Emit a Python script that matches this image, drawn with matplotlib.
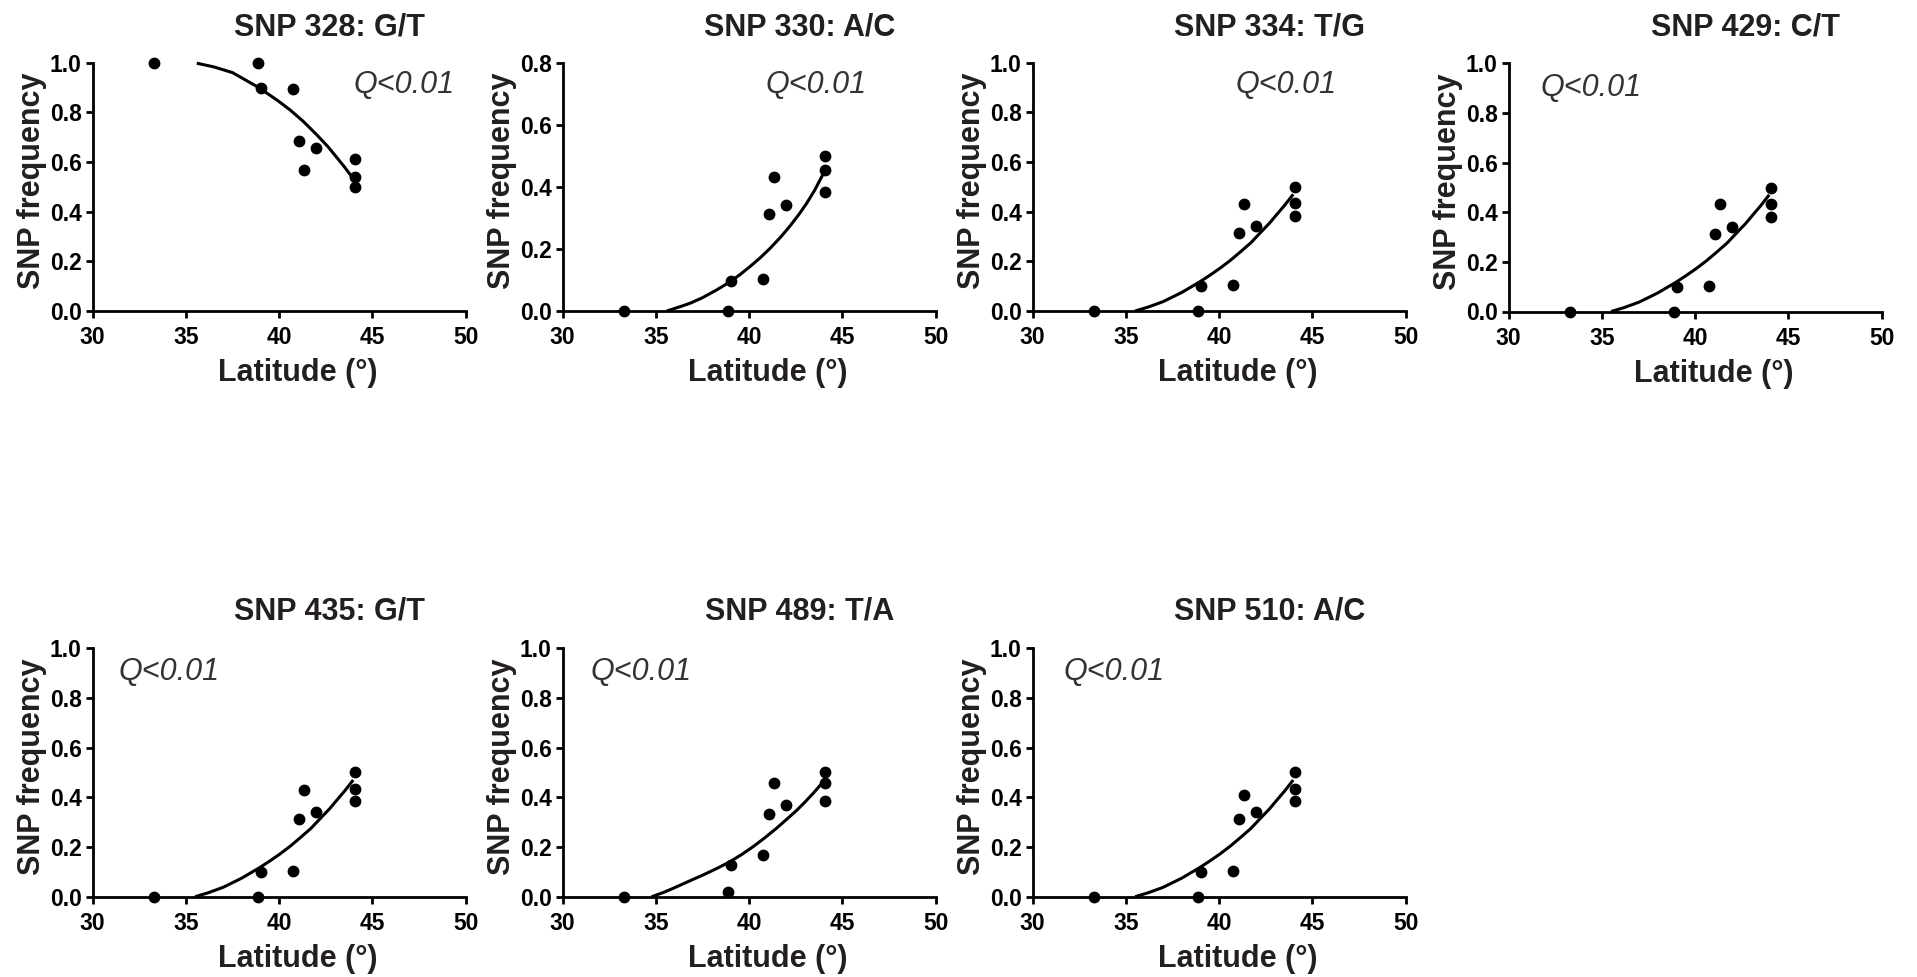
import matplotlib
matplotlib.use('Agg')
import matplotlib.pyplot as plt
from matplotlib.ticker import FormatStrFormatter

plt.rcParams['font.family'] = ['Liberation Sans', 'DejaVu Sans']
plt.rcParams['font.weight'] = 'bold'

# latitude of each sampled population (same for every SNP)
lat = [33.29, 38.87, 39.03, 40.76, 41.08, 41.35, 41.99, 44.05, 44.08, 44.05]

freq_328 = [1.0, 1.0, 0.899, 0.894, 0.686, 0.566, 0.656, 0.613, 0.541, 0.499]
freq_330 = [0.0, 0.0, 0.098, 0.104, 0.311, 0.431, 0.341, 0.498, 0.454, 0.382]
freq_334 = [0.0, 0.0, 0.101, 0.103, 0.313, 0.432, 0.341, 0.499, 0.434, 0.383]
freq_429 = [0.0, 0.0, 0.100, 0.103, 0.311, 0.431, 0.340, 0.498, 0.431, 0.382]
freq_435 = [0.0, 0.0, 0.099, 0.103, 0.312, 0.431, 0.341, 0.501, 0.434, 0.384]
freq_489 = [0.0, 0.019, 0.126, 0.167, 0.333, 0.456, 0.368, 0.501, 0.456, 0.384]
freq_510 = [0.0, 0.0, 0.099, 0.103, 0.312, 0.409, 0.341, 0.501, 0.434, 0.384]

# fitted curves
fit_328_x = [35.58, 36.5, 37.5, 38.97, 40.0, 40.58, 41.3, 42.01, 42.6, 43.08, 43.5, 43.95]
fit_328_y = [0.998, 0.983, 0.960, 0.897, 0.843, 0.810, 0.763, 0.710, 0.663, 0.619, 0.580, 0.535]
fit_330_x = [35.58, 36.3, 36.83, 37.5, 38.26, 38.97, 39.5, 40.04, 40.6, 41.12, 41.7, 42.19, 42.7, 43.08, 43.5, 43.97]
fit_330_y = [0.0, 0.014, 0.025, 0.043, 0.068, 0.094, 0.117, 0.143, 0.172, 0.202, 0.239, 0.274, 0.314, 0.347, 0.388, 0.442]
fit_std_x = [35.49, 36.2, 37.0, 38.0, 38.97, 39.5, 40.04, 40.6, 41.12, 41.7, 42.19, 42.7, 43.08, 43.5, 43.97]
fit_std_y = [0.0, 0.016, 0.038, 0.075, 0.118, 0.144, 0.172, 0.204, 0.237, 0.275, 0.314, 0.354, 0.388, 0.425, 0.470]
fit_489_x = [34.77, 35.4, 35.93, 36.7, 37.54, 38.3, 38.97, 39.6, 40.22, 40.85, 41.47, 42.0, 42.55, 43.0, 43.44, 43.97]
fit_489_y = [0.0, 0.017, 0.034, 0.060, 0.088, 0.115, 0.141, 0.170, 0.202, 0.238, 0.276, 0.311, 0.348, 0.382, 0.417, 0.463]

titles = ['SNP 328: G/T', 'SNP 330: A/C', 'SNP 334: T/G', 'SNP 429: C/T',
          'SNP 435: G/T', 'SNP 489: T/A', 'SNP 510: A/C']
freqs = [freq_328, freq_330, freq_334, freq_429, freq_435, freq_489, freq_510]
fits = [(fit_328_x, fit_328_y), (fit_330_x, fit_330_y), (fit_std_x, fit_std_y),
        (fit_std_x, fit_std_y), (fit_std_x, fit_std_y), (fit_489_x, fit_489_y),
        (fit_std_x, fit_std_y)]
ymaxes = [1.0, 0.8, 1.0, 1.0, 1.0, 1.0, 1.0]
q_label = 'Q<0.01'

W, H = 1917, 977
# axes boxes in pixels: left, bottom edge (y from top)
boxes = [(92.7, 311), (562.7, 311), (1032.7, 311), (1508.7, 311.5),
         (92.7, 896.7), (562.7, 896.7), (1032.7, 896.7)]
q_pos = [(0.698, 0.879), (0.545, 0.879), (0.545, 0.879), (0.086, 0.866),
         (0.070, 0.872), (0.075, 0.872), (0.082, 0.872)]
ax_w, ax_h = 373, 248.3

fig = plt.figure(figsize=(W / 100, H / 100), dpi=100)
text_col = '#231f20'

for i, title in enumerate(titles):
    left, bot = boxes[i]
    ax = fig.add_axes([left / W, 1 - bot / H, ax_w / W, ax_h / H])
    ax.scatter(lat, freqs[i], s=56, color='black', zorder=3, clip_on=False)
    fx, fy = fits[i]
    ax.plot(fx, fy, color='black', lw=2.2, zorder=2, clip_on=False,
            solid_joinstyle='round', solid_capstyle='butt')

    ymax = ymaxes[i]
    ax.set_xlim(30, 50)
    ax.set_ylim(0, ymax)
    ax.set_xticks([30, 35, 40, 45, 50])
    ax.set_yticks([v / 10 for v in range(0, int(round(ymax * 10)) + 1, 2)])
    ax.yaxis.set_major_formatter(FormatStrFormatter('%.1f'))

    for side in ['top', 'right']:
        ax.spines[side].set_visible(False)
    for side in ['left', 'bottom']:
        ax.spines[side].set_linewidth(2.0)
    ax.tick_params(axis='both', direction='out', length=5, width=2.0,
                   labelsize=16.5, colors='black')
    ax.tick_params(axis='x', pad=6)
    ax.tick_params(axis='y', pad=3)

    title_y = 1.111 if i < 4 else 1.116
    ax.set_title(title, x=0.636, y=title_y, pad=0, fontsize=22,
                 fontweight='bold', color=text_col, ha='center')

    ax.set_xlabel('Latitude (°)', fontsize=22, fontweight='bold', color=text_col)
    ax.xaxis.label.set_va('baseline')
    ax.xaxis.set_label_coords(0.549, -0.282)
    ax.set_ylabel('SNP frequency', fontsize=22, fontweight='bold', color=text_col)
    ax.yaxis.label.set_va('baseline')
    ax.yaxis.set_label_coords(-0.141, 0.524)

    qx, qy = q_pos[i]
    ax.text(qx, qy, q_label, transform=ax.transAxes, fontsize=22,
            fontstyle='italic', fontweight='normal', color='#333333',
            ha='left', va='baseline')

fig.savefig('out.png', dpi=100)
